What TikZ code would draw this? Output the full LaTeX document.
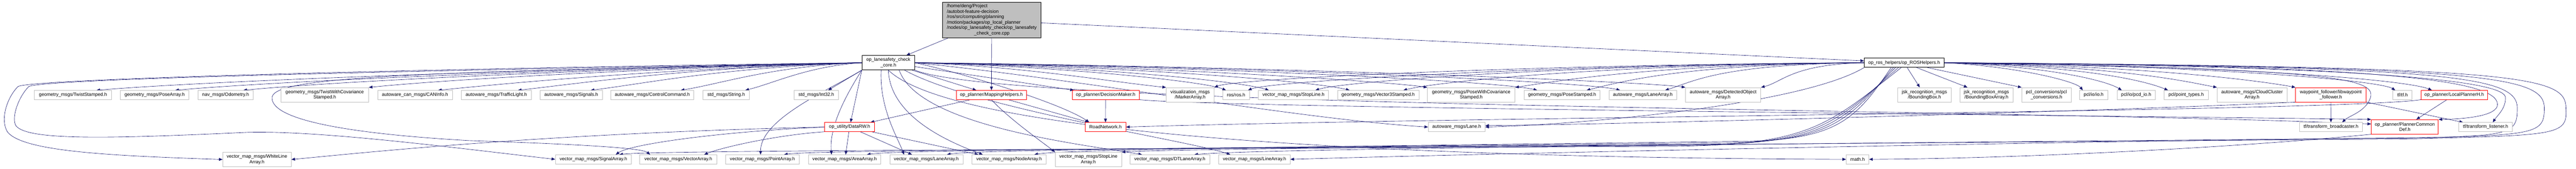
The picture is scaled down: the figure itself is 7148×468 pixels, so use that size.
\documentclass[tikz,border=0pt]{standalone}
\usepackage{fontspec}
\setmainfont{Liberation Sans}
\usetikzlibrary{arrows.meta,backgrounds}
\definecolor{navyedge}{RGB}{25,25,112}
\definecolor{boxgray}{RGB}{191,191,191}
\definecolor{boxred}{RGB}{255,0,0}
\begin{document}
\begin{tikzpicture}[x=1pt,y=1pt,yscale=-1,xscale=1,
	hdr/.style={draw=boxgray,line width=1pt,fill=white,inner sep=0pt,align=center,minimum height=25,font=\fontsize{13}{15}\selectfont},
	twoline/.style={minimum height=40},
	redhdr/.style={hdr,draw=boxred,line width=1.2pt},
	blackhdr/.style={hdr,draw=black,line width=1.3pt},
	inc/.style={navyedge,line width=0.9pt,-{Triangle[length=10pt,width=8pt]}}]
				\useasboundingbox (0,0) rectangle (7148,468); %set diagram size

				% Text Node: file itself
				\node[blackhdr,fill=boxgray,minimum width=272,minimum height=99] (main) at (2752,55.5) {\begin{tabular}{@{}l@{}}/home/deng/Project\\/autobot-feature-decision\\/ros/src/computing/planning\\/motion/packages/op\_local\_planner\\/nodes/op\_lanesafety\_check/op\_lanesafety\\\multicolumn{1}{@{}c@{}}{\_check\_core.cpp}\end{tabular}};
				\node[blackhdr,twoline,minimum width=146] (core) at (2465,174) {op\_lanesafety\_check\\\_core.h};
				\node[blackhdr,minimum width=221,minimum height=26] (rosh) at (5283.5,174) {op\_ros\_helpers/op\_ROSHelpers.h};

				% Text Node: first row
				\node[hdr,minimum width=215] (twist) at (202.5,263.5) {geometry\_msgs/TwistStamped.h};
				\node[hdr,minimum width=190] (posearr) at (429,263.5) {geometry\_msgs/PoseArray.h};
				\node[hdr,minimum width=154] (odom) at (626,263.5) {nav\_msgs/Odometry.h};
				\node[hdr,twoline,minimum width=244] (twistcov) at (901,263) {geometry\_msgs/TwistWithCovariance\\Stamped.h};
				\node[hdr,minimum width=207] (caninfo) at (1151.5,263.5) {autoware\_can\_msgs/CANInfo.h};
				\node[hdr,minimum width=194] (traffic) at (1377,263.5) {autoware\_msgs/TrafficLight.h};
				\node[hdr,minimum width=172] (signals) at (1585,263.5) {autoware\_msgs/Signals.h};
				\node[hdr,minimum width=230] (ctrlcmd) at (1810,263.5) {autoware\_msgs/ControlCommand.h};
				\node[hdr,minimum width=128] (strmsg) at (2015,263.5) {std\_msgs/String.h};
				\node[hdr,minimum width=122] (int32) at (2265,263.5) {std\_msgs/Int32.h};
				\node[redhdr,minimum width=194] (maphelp) at (2751,263.5) {op\_planner/MappingHelpers.h};
				\node[redhdr,minimum width=186] (decmaker) at (3068,263.5) {op\_planner/DecisionMaker.h};
				\node[hdr,twoline,minimum width=133] (marker) at (3302.5,263) {visualization\_msgs\\/MarkerArray.h};
				\node[hdr,minimum width=74] (rosros) at (3430,263.5) {ros/ros.h};
				\node[hdr,minimum width=194] (stopline) at (3589,263.5) {vector\_map\_msgs/StopLine.h};
				\node[hdr,minimum width=226] (vecthree) at (3824,263.5) {geometry\_msgs/Vector3Stamped.h};
				\node[hdr,twoline,minimum width=243] (posecov) at (4082.5,263) {geometry\_msgs/PoseWithCovariance\\Stamped.h};
				\node[hdr,minimum width=211] (posestamp) at (4334.5,263.5) {geometry\_msgs/PoseStamped.h};
				\node[hdr,minimum width=187] (lanearr) at (4558.5,263.5) {autoware\_msgs/LaneArray.h};
				\node[hdr,twoline,minimum width=209] (detobj) at (4781.5,263) {autoware\_msgs/DetectedObject\\Array.h};
				\node[hdr,twoline,minimum width=148] (bbox) at (5340,263) {jsk\_recognition\_msgs\\/BoundingBox.h};
				\node[hdr,twoline,minimum width=148] (bboxarr) at (5512,263) {jsk\_recognition\_msgs\\/BoundingBoxArray.h};
				\node[hdr,twoline,minimum width=137] (pclconv) at (5678.5,263) {pcl\_conversions/pcl\\\_conversions.h};
				\node[hdr,minimum width=79] (pclio) at (5809.5,263.5) {pcl/io/io.h};
				\node[hdr,minimum width=107] (pcdio) at (5927.5,263.5) {pcl/io/pcd\_io.h};
				\node[hdr,minimum width=122] (ptypes) at (6066,263.5) {pcl/point\_types.h};
				\node[hdr,twoline,minimum width=194] (cloudclu) at (6249,263) {autoware\_msgs/CloudCluster\\Array.h};
				\node[redhdr,twoline,minimum width=195] (waypt) at (6467.5,263) {waypoint\_follower/libwaypoint\\\_follower.h};
				\node[hdr,minimum width=53] (tftf) at (6666.5,263.5) {tf/tf.h};
				\node[redhdr,minimum width=184] (localpl) at (6810,263.5) {op\_planner/LocalPlannerH.h};

				% Text Node: second row
				\node[redhdr,minimum width=139] (datarw) at (2357.5,352.5) {op\_utility/DataRW.h};
				\node[redhdr,minimum width=113] (roadnet) at (3067.5,352.5) {RoadNetwork.h};
				\node[hdr,minimum width=158] (lane) at (4042,352.5) {autoware\_msgs/Lane.h};
				\node[hdr,minimum width=174] (tfbroad) at (6468,352.5) {tf/transform\_broadcaster.h};
				\node[redhdr,twoline,minimum width=186] (commondef) at (6673,352) {op\_planner/PlannerCommon\\Def.h};
				\node[hdr,minimum width=148] (tflisten) at (6897,352.5) {tf/transform\_listener.h};

				% Text Node: third row
				\node[hdr,twoline,minimum width=190] (whiteline) at (713,442.5) {vector\_map\_msgs/WhiteLine\\Array.h};
				\node[hdr,minimum width=211] (signalarr) at (1646.5,442) {vector\_map\_msgs/SignalArray.h};
				\node[hdr,minimum width=214] (vectorarr) at (1882,442) {vector\_map\_msgs/VectorArray.h};
				\node[hdr,minimum width=205] (pointarr) at (2115.5,442) {vector\_map\_msgs/PointArray.h};
				\node[hdr,minimum width=201] (areaarr) at (2343.5,442) {vector\_map\_msgs/AreaArray.h};
				\node[hdr,minimum width=203] (vmlane) at (2570.5,442) {vector\_map\_msgs/LaneArray.h};
				\node[hdr,minimum width=206] (nodearr) at (2800,442) {vector\_map\_msgs/NodeArray.h};
				\node[hdr,twoline,minimum width=184] (stoplarr) at (3020,442.5) {vector\_map\_msgs/StopLine\\Array.h};
				\node[hdr,minimum width=222] (dtlane) at (3246,442) {vector\_map\_msgs/DTLaneArray.h};
				\node[hdr,minimum width=198] (linearr) at (3481,442) {vector\_map\_msgs/LineArray.h};
				\node[hdr,minimum width=63] (mathh) at (5154.5,442) {math.h};

				\begin{pgfonlayer}{background}
				%Straight Lines: from the file
				\draw[inc] (main) -- (core);
				\draw[inc] (main) -- (maphelp);
				\draw[inc] ([yshift=8]main.east) -- (rosh);

				%Curve Lines: core header, left row
				\draw[inc] (core.west) .. controls +(-1000,20) and +(300,-25) .. ([xshift=65]twist.north);
				\draw[inc] (core.west) .. controls +(-900,20) and +(280,-25) .. ([xshift=57]posearr.north);
				\draw[inc] (core.west) .. controls +(-800,20) and +(260,-25) .. ([xshift=49]odom.north);
				\draw[inc] (core.west) .. controls +(-700,20) and +(200,-20) .. (twistcov.north east);
				\draw[inc] (core.west) .. controls +(-600,20) and +(200,-20) .. ([xshift=64]caninfo.north);
				\draw[inc] (core.west) .. controls +(-500,15) and +(180,-20) .. ([xshift=60]traffic.north);
				\draw[inc] (core.west) .. controls +(-400,15) and +(160,-20) .. ([xshift=54]signals.north);
				\draw[inc] (core.west) .. controls +(-250,10) and +(120,-20) .. ([xshift=79]ctrlcmd.north);
				\draw[inc] (core.west) .. controls +(-150,10) and +(80,-20) .. ([xshift=53]strmsg.north);
				\draw[inc] (core.south west) -- ([xshift=33]int32.north);

				%Curve Lines: core header, right row
				\draw[inc] (core) -- (maphelp);
				\draw[inc] (core) -- (decmaker);
				\draw[inc] (core.east) .. controls +(300,10) and +(-150,-15) .. (marker.north west);
				\draw[inc] (core.east) .. controls +(400,10) and +(-60,-25) .. ([xshift=-28]rosros.north);
				\draw[inc] (core.east) .. controls +(500,10) and +(-80,-25) .. ([xshift=-68]stopline.north);
				\draw[inc] (core.east) .. controls +(600,10) and +(-100,-25) .. ([xshift=-79]vecthree.north);
				\draw[inc] (core.east) .. controls +(700,10) and +(-100,-15) .. (posecov.north west);
				\draw[inc] (core.east) .. controls +(800,10) and +(-100,-25) .. ([xshift=-69]posestamp.north);
				\draw[inc] (core.east) .. controls +(900,10) and +(-100,-25) .. ([xshift=-63]lanearr.north);
				\draw[inc] (core.east) .. controls +(1000,10) and +(-100,-15) .. (detobj.north west);

				%Curve Lines: core header, lower rows
				\draw[inc] (core.east) .. controls (2700,210) and (2950,290) .. ([xshift=-45]roadnet.north);
				\draw[inc] (core.east) .. controls (3000,220) and (3600,330) .. (lane.west);
				\draw[inc] (core.south east) .. controls (2800,300) and (5500,300) .. ([yshift=-8]commondef.west);
				\draw[inc] (core.south) .. controls (2700,420) and (4500,440) .. (mathh.west);
				\draw[inc] (core.west) .. controls (1500,185) and (100,215) .. (50,240) .. controls (20,270) and (0,330) .. (20,365) .. controls (60,420) and (300,432) .. (whiteline.west);
				\draw[inc] (core.west) .. controls (1500,190) and (130,215) .. (80,240) .. controls (50,270) and (30,330) .. (45,350) .. controls (80,390) and (300,385) .. (690,367) .. controls (900,362) and (1300,415) .. (signalarr.west);
				\draw[inc] (core.west) .. controls (1200,200) and (760,210) .. (755,270) .. controls (750,330) and (950,370) .. (1300,390) .. controls (1600,400) and (1780,410) .. ([xshift=-78]vectorarr.north);
				\draw[inc] (core.south west) .. controls (2300,250) and (2110,330) .. ([xshift=-5]pointarr.north);
				\draw[inc] (core.south west) .. controls (2350,260) and (2300,350) .. ([xshift=-36]areaarr.north);
				\draw[inc] ([xshift=-20]core.south) .. controls (2440,300) and (2490,380) .. ([xshift=-62]vmlane.north);
				\draw[inc] (core.south) .. controls (2470,330) and (2650,400) .. ([xshift=-73]nodearr.north);
				\draw[inc] ([xshift=30]core.south) .. controls (2550,350) and (3000,400) .. ([xshift=-77]dtlane.north);
				\draw[inc] ([xshift=45]core.south) .. controls (2700,300) and (3300,390) .. ([xshift=-67]linearr.north);
				\draw[inc] (core.south west) -- (datarw);

				%Curve Lines: ROS helpers, left side
				\draw[inc] (rosh.west) .. controls +(-900,5) and +(60,-25) .. (marker.north east);
				\draw[inc] (rosh.west) .. controls +(-850,5) and +(60,-25) .. ([xshift=33]rosros.north);
				\draw[inc] (rosh.west) .. controls +(-800,5) and +(80,-25) .. ([xshift=61]stopline.north);
				\draw[inc] (rosh.west) .. controls +(-700,5) and +(100,-25) .. ([xshift=70]vecthree.north);
				\draw[inc] (rosh.west) .. controls +(-600,5) and +(100,-15) .. (posecov.north east);
				\draw[inc] (rosh.west) .. controls +(-500,5) and +(100,-25) .. ([xshift=68]posestamp.north);
				\draw[inc] (rosh.west) .. controls +(-400,5) and +(80,-25) .. ([xshift=62]lanearr.north);
				\draw[inc] (rosh.west) .. controls +(-200,5) and +(60,-15) .. (detobj.north east);

				%Curve Lines: ROS helpers, right side
				\draw[inc] (rosh) -- (bbox);
				\draw[inc] (rosh) -- (bboxarr);
				\draw[inc] (rosh) -- (pclconv.north west);
				\draw[inc] (rosh.east) .. controls +(200,10) and +(-20,-25) .. ([xshift=-30]pclio.north);
				\draw[inc] (rosh.east) .. controls +(300,10) and +(-40,-25) .. ([xshift=-40]pcdio.north);
				\draw[inc] (rosh.east) .. controls +(400,10) and +(-60,-25) .. ([xshift=-50]ptypes.north);
				\draw[inc] (rosh.east) .. controls +(500,10) and +(-80,-15) .. (cloudclu.north west);
				\draw[inc] (rosh.east) .. controls +(600,10) and +(-80,-15) .. (waypt.north west);
				\draw[inc] (rosh.east) .. controls +(800,10) and +(-40,-25) .. ([xshift=-20]tftf.north);
				\draw[inc] (rosh.east) .. controls +(900,10) and +(-60,-25) .. ([xshift=-62]localpl.north);
				\draw[inc] (rosh.east) .. controls (6500,190) and (6590,220) .. (6578,270) .. controls (6565,310) and (6520,320) .. ([xshift=31]tfbroad.north);
				\draw[inc] (rosh.east) .. controls (6700,180) and (6930,230) .. (6930,290) .. controls (6930,320) and (6850,330) .. (commondef.north east);
				\draw[inc] (rosh.east) .. controls (6800,185) and (6950,240) .. (6952,270) .. controls (6954,300) and (6930,320) .. ([xshift=20]tflisten.north);

				%Curve Lines: ROS helpers, round the right edge
				\draw[inc] (rosh.east) .. controls (6800,185) and (6985,210) .. (6985,300) .. controls (6985,370) and (6970,378) .. (6700,382) .. controls (5500,395) and (4000,430) .. (linearr.east);
				\draw[inc] (rosh.east) .. controls (6900,185) and (7060,210) .. (7060,300) .. controls (7060,370) and (7040,375) .. (6700,383) .. controls (5000,398) and (3500,412) .. ([xshift=68]dtlane.north);
				\draw[inc] (rosh.east) .. controls (7000,185) and (7120,210) .. (7120,300) .. controls (7125,375) and (7100,375) .. (6700,385) .. controls (5000,400) and (3300,410) .. (stoplarr.north east);

				%Curve Lines: ROS helpers, down to the third row
				\draw[inc] ([xshift=-36]rosh.south) .. controls (5150,330) and (5100,385) .. (4850,392) .. controls (3800,405) and (2950,414) .. ([xshift=70]nodearr.north);
				\draw[inc] ([xshift=-30]rosh.south) .. controls (5130,335) and (5080,390) .. (4800,396) .. controls (3600,408) and (2700,415) .. ([xshift=57]vmlane.north);
				\draw[inc] ([xshift=-24]rosh.south) .. controls (5110,340) and (5060,395) .. (4750,400) .. controls (3400,410) and (2480,416) .. ([xshift=62]areaarr.north);
				\draw[inc] ([xshift=-16]rosh.south) .. controls (5090,345) and (5040,398) .. (4700,403) .. controls (3200,412) and (2250,417) .. ([xshift=60]pointarr.north);
				\draw[inc] ([xshift=-8]rosh.south) .. controls (5070,350) and (5020,400) .. (4650,406) .. controls (3000,414) and (1800,418) .. ([xshift=72]signalarr.north);
				\draw[inc] (rosh.south west) .. controls (5000,290) and (4400,345) .. (lane.east);

				%Straight Lines: second row headers
				\draw[inc] (maphelp) -- (datarw);
				\draw[inc] (maphelp) -- (roadnet);
				\draw[inc] (maphelp.south) .. controls (2800,330) and (2900,400) .. (stoplarr.north west);
				\draw[inc] (decmaker) -- (roadnet);
				\draw[inc] (decmaker.south east) .. controls (3400,300) and (5800,320) .. (commondef.north west);
				\draw[inc] (localpl) -- (commondef);
				\draw[inc] (localpl.south west) .. controls (6500,310) and (4000,325) .. (roadnet.east);
				\draw[inc] (waypt) -- (tfbroad);
				\draw[inc] (waypt) -- (tflisten);
				\draw[inc] (waypt.south west) .. controls (5800,310) and (4500,345) .. ([yshift=-4]lane.east);
				\draw[inc] (commondef.south west) .. controls (6200,410) and (5600,440) .. (mathh.east);

				%Straight Lines: data reader
				\draw[inc] (datarw.west) .. controls (1500,370) and (1000,425) .. (whiteline.east);
				\draw[inc] (datarw.west) .. controls (2000,365) and (1750,400) .. ([xshift=62]signalarr.north);
				\draw[inc] (datarw.south west) .. controls (2150,375) and (2000,410) .. ([xshift=72]vectorarr.north);
				\draw[inc] (datarw) -- ([xshift=3]areaarr.north);
				\draw[inc] (datarw) -- ([xshift=-40]vmlane.north);
				\draw[inc] (datarw) -- ([xshift=-85]nodearr.north);
				\end{pgfonlayer}
\end{tikzpicture}
\end{document}
